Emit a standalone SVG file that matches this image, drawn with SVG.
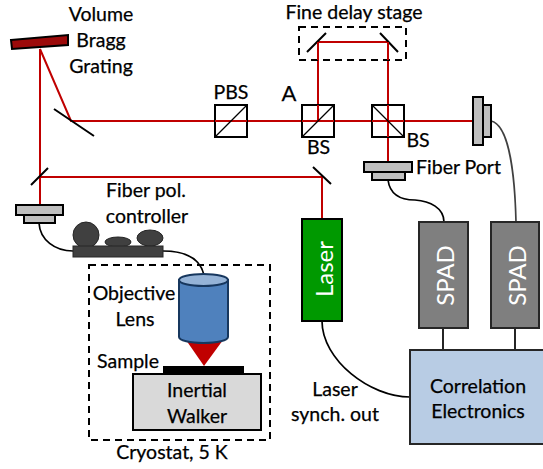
<svg xmlns="http://www.w3.org/2000/svg" width="543" height="469" viewBox="0 0 543 469">
<style>
text{font-family:Lato,"Liberation Sans",sans-serif;font-size:19.5px;fill:#000;stroke:#000;stroke-width:.25;text-anchor:middle}
.beam{fill:none;stroke:#c00000;stroke-width:2}
.mir{fill:none;stroke:#000;stroke-width:2}
.cube{fill:#fff;stroke:#000;stroke-width:2}
.port{fill:#bfbfbf;stroke:#000;stroke-width:2}
.fib{fill:none;stroke:#000;stroke-width:1.7}
.dash{fill:none;stroke:#000;stroke-width:2;stroke-dasharray:7 5}
.box{stroke:#000;stroke-width:2}
.spad{fill:#7f7f7f;stroke:#262626;stroke-width:2}
text.w{fill:#fff;stroke:none;font-size:24px}
.ctl{fill:#404040;stroke:#262626;stroke-width:1}
</style>
<g id="connectors">
<path class="beam" d="M40,49V205M40,49L71,121H473M40,177H322V219M318,121V42H388V162"/>
<path class="fib" d="M388,180C390,195 400,200 415,200C430,201 444,208 444,222"/>
<path class="fib" stroke-opacity=".75" d="M491,121C510,125 515,180 516,222"/>
<path class="fib" d="M39,223C40,240 55,251 73,251"/>
<path class="fib" d="M163,251C185,251 200,258 204,275"/>
<path class="fib" d="M322,321C322,360 370,397 410,397"/>
<path class="fib" d="M443,328V350M515,328V350"/>
</g>
<g id="grating"><polygon points="11,40 68,35 68,45 12,49" fill="#9c0a0a" stroke="#000" stroke-width="2"/>
<text x="101" y="21">Volume</text><text x="101" y="47">Bragg</text><text x="101" y="73">Grating</text></g>
<g id="mirrors">
<path class="mir" d="M54,109L94,136M31,185L48,168M313,167L331,184M307,52L326,33M380,33L398,52"/>
</g>
<g id="pbs"><rect class="cube" x="215" y="105" width="32" height="32"/><path class="beam" d="M215,121H247"/><path d="M215,137L247,105" fill="none" stroke="#000" stroke-width="1.2"/><text x="231" y="99">PBS</text></g>
<g id="bs1"><rect class="cube" x="302" y="105" width="32" height="32"/><path class="beam" d="M302,121H334M318,105V121"/><path d="M302,137L334,105" fill="none" stroke="#000" stroke-width="1.2"/><text x="318.500" y="154">BS</text><text x="289" y="101" style="font-size:22px">A</text></g>
<g id="bs2"><rect class="cube" x="372" y="105" width="32" height="32"/><path class="beam" d="M372,121H404M388,105V137"/><path d="M372,105L404,137" fill="none" stroke="#000" stroke-width="1.2"/><text x="418" y="147">BS</text></g>
<g id="delay"><rect class="dash" x="299" y="27" width="107" height="33"/><path class="beam" d="M318,42V60M388,42V60"/><text x="354" y="19">Fine delay stage</text></g>
<g id="port-left"><rect class="port" x="16" y="205" width="47" height="10"/><rect class="port" x="24" y="215" width="31" height="8"/></g>
<g id="port-mid"><rect class="port" x="364" y="162" width="48" height="10"/><rect class="port" x="372" y="172" width="33" height="8"/><text x="458.500" y="174">Fiber Port</text></g>
<g id="port-right"><rect class="port" x="473" y="97" width="10" height="48"/><rect class="port" x="483" y="105" width="8" height="32"/></g>
<g id="controller"><ellipse class="ctl" cx="86" cy="235" rx="13" ry="13"/><ellipse class="ctl" cx="118" cy="242" rx="13" ry="5"/><ellipse class="ctl" cx="150" cy="238" rx="13" ry="8"/><rect class="ctl" x="73" y="246" width="90" height="11"/><text x="146" y="197">Fiber pol.</text><text x="147" y="223">controller</text></g>
<g id="cryostat"><rect class="dash" x="89" y="265" width="181" height="175"/><text x="172" y="459">Cryostat, 5 K</text></g>
<g id="objective"><path d="M186,340L223,340L204,366Z" fill="#c00000"/><path d="M179,280V337A24.500,6 0 0 0 228,337V280Z" fill="#4f81bd" stroke="#17375e" stroke-width="2"/><ellipse cx="203.500" cy="280" rx="24.500" ry="6" fill="#95b3d7" stroke="#17375e" stroke-width="2"/><text x="134" y="300">Objective</text><text x="135" y="326">Lens</text></g>
<g id="sample"><rect x="163" y="366" width="81" height="8" fill="#000"/><text x="128" y="368">Sample</text></g>
<g id="walker"><rect x="133" y="374" width="128" height="56" fill="#d9d9d9" stroke="#000" stroke-width="2"/><text x="197" y="397">Inertial</text><text x="197" y="423">Walker</text></g>
<g id="laser"><rect class="box" x="302" y="219" width="40" height="102" fill="#009900"/><text class="w" transform="translate(333,269) rotate(-90)">Laser</text><text x="335" y="396">Laser</text><text x="335" y="421">synch. out</text></g>
<g id="spad1"><rect class="spad" x="419" y="222" width="49" height="106"/><text class="w" transform="translate(454,275.500) rotate(-90)">SPAD</text></g>
<g id="spad2"><rect class="spad" x="491" y="222" width="48" height="106"/><text class="w" transform="translate(526,275.500) rotate(-90)">SPAD</text></g>
<g id="correlation"><rect x="410" y="350" width="134" height="94" fill="#b8cce4" stroke="#262626" stroke-width="2"/><text x="478" y="393">Correlation</text><text x="478" y="418">Electronics</text></g>
</svg>
